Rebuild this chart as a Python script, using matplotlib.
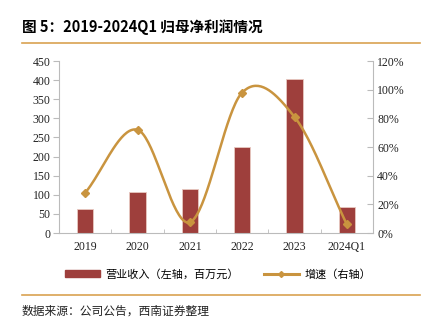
import numpy as np
import matplotlib
matplotlib.use("Agg")
import matplotlib.pyplot as plt
from matplotlib.lines import Line2D
from matplotlib.patches import Patch

plt.rcParams['font.family'] = ['Noto Sans CJK SC', 'DejaVu Sans']

years = ["2019", "2020", "2021", "2022", "2023", "2024Q1"]
revenue = [64, 107, 114, 224, 402, 67]
growth = [28, 72, 7.5, 98, 81, 6]  # percent

bar_color = "#9E3F3C"
line_color = "#C9943F"
serif = "Liberation Serif"


def catmull_rom(x, y, n=40):
    # Excel-like smoothed line through the points
    x = np.asarray(x, float)
    y = np.asarray(y, float)
    px = np.concatenate([[2 * x[0] - x[1]], x, [2 * x[-1] - x[-2]]])
    py = np.concatenate([[2 * y[0] - y[1]], y, [2 * y[-1] - y[-2]]])
    xs, ys = [], []
    for i in range(1, len(px) - 2):
        t = np.linspace(0, 1, n)
        for p, out in ((px, xs), (py, ys)):
            p0, p1, p2, p3 = p[i - 1], p[i], p[i + 1], p[i + 2]
            out.extend(0.5 * ((2 * p1) + (-p0 + p2) * t +
                              (2 * p0 - 5 * p1 + 4 * p2 - p3) * t ** 2 +
                              (-p0 + 3 * p1 - 3 * p2 + p3) * t ** 3))
    return np.array(xs), np.array(ys)


fig = plt.figure(figsize=(4.26, 3.26), dpi=100)
ax = fig.add_axes([59 / 426, 93 / 326, 314 / 426, 172 / 326])
ax2 = ax.twinx()

x = np.arange(len(years))
ax.bar(x, revenue, width=0.31, color=bar_color, edgecolor="#E8C8C0", linewidth=0.6, zorder=2)
ax.set_xlim(-0.5, len(years) - 0.5)
ax.set_ylim(0, 450)
ax.set_yticks(np.arange(0, 451, 50))
ax.set_xticks(x)
ax.set_xticklabels(years)
ax.set_xticks(np.arange(0.5, len(years) - 0.5, 1), minor=True)
ax.tick_params(axis="x", which="major", length=0, pad=6)
ax.tick_params(axis="x", which="minor", length=3, direction="in", color="#BBBBBB")
ax.tick_params(axis="y", length=4, direction="out", color="#BBBBBB", pad=2)

sx, sy = catmull_rom(x, growth)
ax2.plot(sx, sy, color=line_color, lw=1.8, zorder=3)
ax2.plot(x, growth, "D", color=line_color, ms=4, zorder=4)
ax2.set_ylim(0, 120)
ax2.set_yticks(np.arange(0, 121, 20))
ax2.set_yticklabels([f"{v}%" for v in range(0, 121, 20)])
ax2.tick_params(axis="y", length=4, direction="in", color="#BBBBBB", pad=3)

for a in (ax, ax2):
    a.spines["top"].set_visible(False)
    for lab in a.get_xticklabels() + a.get_yticklabels():
        lab.set_fontfamily(serif)
        lab.set_fontsize(8.5)
        lab.set_color("#222222")
ax.spines["right"].set_visible(False)
ax2.spines["left"].set_visible(False)
ax2.spines["bottom"].set_visible(False)
ax.spines["left"].set_color("#BBBBBB")
ax.spines["bottom"].set_color("#BBBBBB")
ax2.spines["right"].set_color("#BBBBBB")

handles = [Patch(color=bar_color, label="营业收入（左轴，百万元）"),
           Line2D([], [], color=line_color, lw=2.2, marker="D", ms=3, label="增速（右轴）")]
fig.legend(handles=handles, loc="center", bbox_to_anchor=(218 / 426, 1 - 274 / 326), ncol=2,
           frameon=False, fontsize=8, handlelength=3.2, handleheight=0.5,
           columnspacing=2.2, handletextpad=0.5)

fig.text(22 / 426, 1 - 27 / 326, "图 5：2019-2024Q1 归母净利润情况", fontsize=10.5,
         fontweight="bold", va="center", ha="left")
fig.add_artist(Line2D([22 / 426, 420 / 426], [1 - 43 / 326] * 2, color="#D9A252", lw=1.2))
fig.add_artist(Line2D([22 / 426, 420 / 426], [1 - 295 / 326] * 2, color="#D9A252", lw=1.2))
fig.text(22 / 426, 1 - 311 / 326, "数据来源：公司公告，西南证券整理", fontsize=8.5,
         style="italic", va="center", ha="left", color="#222222")

fig.savefig("out.png", dpi=100)
